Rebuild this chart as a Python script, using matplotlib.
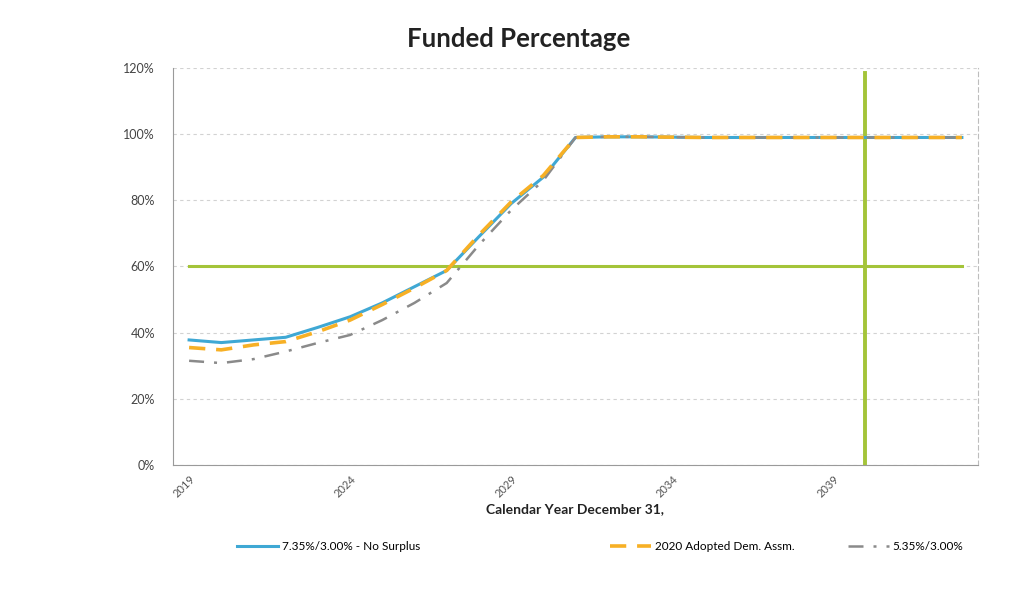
import matplotlib.pyplot as plt
from matplotlib.lines import Line2D

# funded percentage by calendar year
years = list(range(2019, 2044))
no_surplus = [37.8, 37.0, 37.8, 38.6, 41.6, 44.8, 49.0, 53.9, 58.8, 69.0, 79.0, 87.0, 99.0,
              99.2, 99.2, 99.1, 99.0, 99.0, 99.0, 99.0, 99.0, 99.0, 99.0, 99.0, 99.0]
adopted = [35.5, 34.8, 36.3, 37.3, 40.3, 43.8, 48.5, 53.5, 58.8, 69.5, 79.5, 87.5, 99.0,
           99.2, 99.2, 99.1, 99.0, 99.0, 99.0, 99.0, 99.0, 99.0, 99.0, 99.0, 99.0]
low_return = [31.5, 30.8, 32.0, 34.3, 36.9, 39.3, 43.8, 49.0, 55.0, 66.5, 77.0, 86.0, 99.0,
              99.2, 99.2, 99.1, 99.0, 99.0, 99.0, 99.0, 99.0, 99.0, 99.0, 99.0, 99.0]
labels = ["7.35%/3.00% - No Surplus", "2020 Adopted Dem. Assm.", "5.35%/3.00%"]

threshold = 60
marker_year = 2040
xtick_years = [2019, 2024, 2029, 2034, 2039]
yticks = [0, 20, 40, 60, 80, 100, 120]

plt.rcParams['font.family'] = ['Lato', 'DejaVu Sans']

fig = plt.figure(figsize=(10.2, 6.03), dpi=100)
ax = fig.add_axes([0.1696, 0.2289, 0.7892, 0.6583])

green = "#a4c439"
ax.plot(years, [threshold] * len(years), color=green, lw=2.2, zorder=2)
ax.plot([marker_year, marker_year], [0, 118.5], color=green, lw=2.8, zorder=2)

styles = [dict(color="#3fa8d4", lw=2.2),
          dict(color="#f7b025", lw=2.6, ls=(0, (4.5, 3))),
          dict(color="#8a8a8a", lw=1.8, ls=(0, (6, 4, 1.2, 4)))]
ax.plot(years, no_surplus, zorder=3, **styles[0])
ax.plot(years, adopted, zorder=4, **styles[1])
ax.plot(years, low_return, zorder=3, **styles[2])

ax.set_xlim(2018.5, 2043.5)
ax.set_ylim(0, 120)
ax.set_xticks(xtick_years)
ax.set_xticklabels([str(y) for y in xtick_years], rotation=45, ha='right',
                   rotation_mode='anchor', fontsize=8, color="#555555")
ax.set_yticks(yticks)
ax.set_yticklabels([f"{v}%" for v in yticks], fontsize=9, color="#444444")
ax.tick_params(axis='both', length=0)
ax.tick_params(axis='x', pad=6)
ax.tick_params(axis='y', pad=13)

ax.grid(axis='y', color="#d2d2d2", ls=(0, (3, 3)), lw=0.8)
ax.set_axisbelow(True)
ax.spines['top'].set_visible(False)
ax.spines['left'].set_color("#9a9a9a")
ax.spines['bottom'].set_color("#9a9a9a")
ax.spines['right'].set_color("#bdbdbd")
ax.spines['right'].set_linestyle((0, (4, 3)))

ax.set_xlabel("Calendar Year December 31,", fontsize=10, fontweight='bold', color="#222222")
ax.xaxis.set_label_coords(0.5, -0.095)
fig.suptitle("Funded Percentage", x=0.508, y=0.955, fontsize=18.5, fontweight='bold', color="#222222")

# legend entries spread along the bottom like the original
legend_x = [0.232, 0.598, 0.831]
for lab, st, lx in zip(labels, styles, legend_x):
    h = Line2D([], [], **st)
    fig.legend([h], [lab], loc='center left', bbox_to_anchor=(lx, 0.093), frameon=False,
               fontsize=8.5, handlelength=3.5, handletextpad=0.3, borderpad=0, borderaxespad=0)

fig.savefig("out.png", dpi=100)
